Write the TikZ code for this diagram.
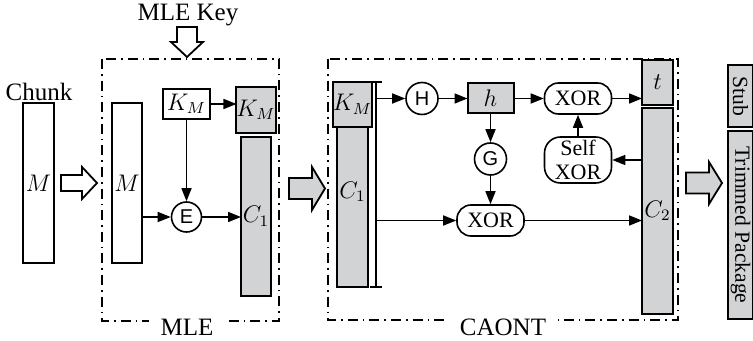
\documentclass[tikz,border=0pt]{standalone}
\usepackage{fontspec}
\setmainfont{Liberation Serif}
\newfontfamily\opfont{Liberation Sans}
\usetikzlibrary{positioning, shapes, arrows.meta}
\definecolor{BoxGray}{RGB}{210, 211, 213}

\tikzset{
  blk/.style={draw, line width=1pt, inner sep=0pt, outer sep=0pt, font=\fontsize{12}{14}\selectfont},
  grayblk/.style={blk, fill=BoxGray},
  op/.style={draw, circle, line width=0.8pt, minimum size=15pt, inner sep=0pt, font=\opfont\fontsize{10}{12}\selectfont},
  xorbox/.style={draw, rounded corners=7pt, line width=0.8pt, minimum width=33.5pt, minimum height=15.5pt, inner sep=0pt, align=center, font=\fontsize{11}{12}\selectfont},
  conn/.style={-{Triangle[length=6.5pt, width=5pt]}, line width=0.8pt},
  stage/.style={draw, line width=0.8pt, dash pattern=on 5pt off 2.5pt on 0.8pt off 2.5pt},
  title/.style={font=\fontsize{12.5}{14}\selectfont, inner sep=1pt},
  hollow/.style={draw, fill=white, line width=0.9pt, line join=miter}
}

\begin{document}
\begin{tikzpicture}[x=0.5pt, y=-0.5pt]
    \useasboundingbox (0,0) rectangle (753,341);

    % Chunk
    \node[title] (chunklbl) at (39,92) {Chunk};
    \node[blk, minimum width=15.5pt, minimum height=80pt] (chunk) at (38.5,183) {$M$};
    \draw[hollow] (61,175) -- (82,175) -- (82,167) -- (97,183) -- (82,199) -- (82,191) -- (61,191) -- cycle;

    % MLE
    \draw[stage] (102,59) rectangle (279,321);
    \node[title, fill=white, inner xsep=6pt] (mlelbl) at (187,327) {MLE};
    \node[title] (keylbl) at (188,15) {MLE Key};
    \draw[hollow] (177,27) -- (197,27) -- (197,42) -- (203,42) -- (187,57) -- (171,42) -- (177,42) -- cycle;
    \node[blk, minimum width=15pt, minimum height=80pt] (mm) at (127,183) {$M$};
    \node[blk, minimum width=23.5pt, minimum height=15pt] (km) at (186.5,104) {$K_M$};
    \node[grayblk, minimum width=15pt, minimum height=23pt] (kmg) at (256,110) {$K_M$};
    \node[grayblk, minimum width=15pt, minimum height=79.5pt] (c1) at (256,216.5) {$C_1$};
    \node[op] (enc) at (186.5,217) {E};
    \draw[conn] (mm.east |- enc) -- (enc);
    \draw[conn] (enc) -- (enc -| c1.west);
    \draw[conn] (km) -- (enc);
    \draw[conn] (km) -- (km -| kmg.west);
    \draw[hollow, fill=BoxGray] (289,178) -- (312,178) -- (312,167) -- (325,188.5) -- (312,210) -- (312,199) -- (289,199) -- cycle;

    % CAONT
    \draw[stage] (328,59) rectangle (678,320);
    \node[title, fill=white, inner xsep=6pt] (caontlbl) at (503,327) {CAONT};
    \node[grayblk, minimum width=15.5pt, minimum height=22.5pt] (kmc) at (352.5,104.5) {$K_M$};
    \node[grayblk, minimum width=15.5pt, minimum height=80pt, below=0pt of kmc] (c1c) {};
    \node[blk, draw=none, fill=none] (c1ctxt) at (352.5,192) {$C_1$};
    \coordinate (brtop) at (376,82);
    \coordinate (brbot) at (376,287);
    \draw[line width=0.9pt] (brtop) -- (brbot)
      ([xshift=-3pt]brtop) -- ([xshift=3pt]brtop)
      ([xshift=-3pt]brbot) -- ([xshift=3pt]brbot);
    \node[op, minimum size=16pt] (hash) at (422,98.5) {H};
    \node[grayblk, minimum width=23pt, minimum height=15pt] (hval) at (490.5,98.5) {$h$};
    \node[xorbox] (xort) at (578,98.5) {XOR};
    \node[grayblk, minimum width=15.5pt, minimum height=22.5pt] (tag) at (657.5,82.5) {$t$};
    \node[op, minimum size=16pt] (gen) at (490.5,159) {G};
    \node[xorbox] (xorb) at (490.5,220.5) {XOR};
    \node[grayblk, minimum width=15.5pt, minimum height=103pt] (c2) at (657.5,211) {$C_2$};
    \node[xorbox, minimum height=23pt, rounded corners=8pt] (selfx) at (578,160) {Self\\XOR};
    \draw[conn] (brtop |- hash) -- (hash);
    \draw[conn] (hash) -- (hval);
    \draw[conn] (hval) -- (xort);
    \draw[conn] (xort) -- (xort -| tag.west);
    \draw[conn] (hval) -- (gen);
    \draw[conn] (gen) -- (xorb);
    \draw[conn] (brtop |- xorb) -- (xorb);
    \draw[conn] (xorb) -- (xorb -| c2.west);
    \draw[conn] (c2.west |- selfx) -- (selfx);
    \draw[conn] (selfx) -- (xort);
    \draw[hollow, fill=BoxGray] (686,172.5) -- (709,172.5) -- (709,162) -- (722,183) -- (709,204) -- (709,193.5) -- (686,193.5) -- cycle;

    % Output
    \node[grayblk, rotate=-90, minimum width=31pt, minimum height=12.5pt, font=\fontsize{10.8}{12}\selectfont] (stub) at (740.5,96) {Stub};
    \node[grayblk, rotate=-90, minimum width=94pt, minimum height=12.5pt, font=\fontsize{10.8}{12}\selectfont] (trim) at (740.5,225) {Trimmed Package};
  \end{tikzpicture}
\end{document}
